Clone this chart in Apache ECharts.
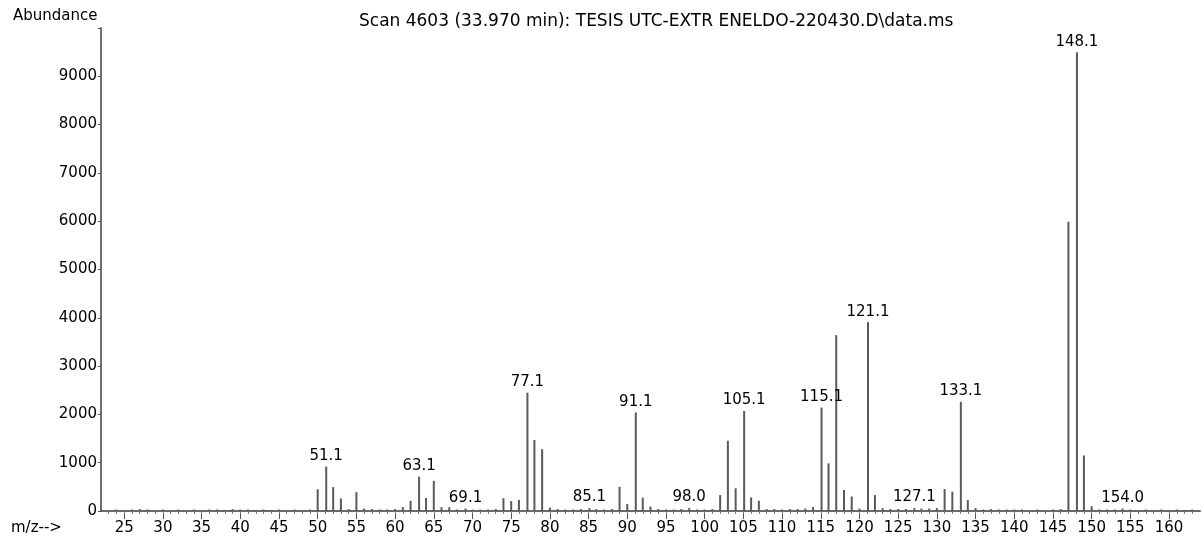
<!DOCTYPE html>
<html>
<head>
<meta charset="utf-8">
<script src="https://cdn.jsdelivr.net/npm/echarts@6/dist/echarts.min.js"></script>
<style>
html, body { margin: 0; padding: 0; background: #fff; }
#chart { width: 1204px; height: 545px; }
</style>
</head>
<body>
<div id="chart"></div>
<script>
// m/z values of the spectrum (labelled peaks carry their centroid mass)
const masses = [
  22, 23, 24, 25, 26, 27, 28, 29, 30, 31, 32, 33, 34, 35, 36, 37, 38, 39, 40, 41,
  42, 43, 44, 45, 46, 47, 48, 49, 50, 51.1, 52, 53, 54, 55, 56, 57, 58, 59, 60, 61,
  62, 63.1, 64, 65, 66, 67, 68, 69.1, 70, 71, 72, 73, 74, 75, 76, 77.1, 78, 79, 80, 81,
  82, 83, 84, 85.1, 86, 87, 88, 89, 90, 91.1, 92, 93, 94, 95, 96, 97, 98.0, 99, 100, 101,
  102, 103, 104, 105.1, 106, 107, 108, 109, 110, 111, 112, 113, 114, 115.1, 116, 117, 118, 119, 120, 121.1,
  122, 123, 124, 125, 126, 127.1, 128, 129, 130, 131, 132, 133.1, 134, 135, 136, 137, 138, 139, 140, 141,
  142, 143, 144, 145, 146, 147, 148.1, 149, 150, 151, 152, 153, 154.0, 155, 156, 157, 158, 159, 160, 161,
  162, 163
];

// Abundance at each m/z above
const abundances = [
  30, 20, 30, 20, 30, 40, 30, 20, 30, 20, 30, 20, 30, 20, 30, 30, 20, 40, 30, 30,
  20, 30, 20, 30, 20, 30, 20, 30, 450, 920, 495, 260, 40, 390, 50, 40, 30, 30, 40, 80,
  210, 710, 270, 625, 80, 80, 30, 50, 30, 30, 30, 40, 265, 205, 230, 2450, 1470, 1280, 70, 40,
  30, 30, 40, 60, 40, 30, 40, 500, 145, 2040, 275, 90, 40, 30, 30, 40, 60, 30, 30, 40,
  330, 1455, 470, 2070, 280, 212, 40, 40, 30, 40, 40, 50, 80, 2140, 985, 3640, 435, 300, 50, 3910,
  330, 60, 40, 40, 40, 60, 50, 50, 60, 455, 400, 2260, 228, 60, 30, 40, 30, 30, 30, 30,
  20, 30, 20, 30, 40, 5990, 9500, 1150, 100, 30, 30, 30, 50, 30, 20, 30, 20, 30, 20, 30,
  20, 30
];

// Peaks annotated with their m/z
const labelledMasses = [51.1, 63.1, 69.1, 77.1, 85.1, 91.1, 98.0, 105.1, 115.1, 121.1, 127.1, 133.1, 148.1, 154.0];

// Axis tick values
const xTickValues = [25, 30, 35, 40, 45, 50, 55, 60, 65, 70, 75, 80, 85, 90, 95, 100, 105, 110,
  115, 120, 125, 130, 135, 140, 145, 150, 155, 160];
const xMinorTickValues = [];
for (let m = 23; m <= 163; m++) xMinorTickValues.push(m);
const yTickValues = [0, 1000, 2000, 3000, 4000, 5000, 6000, 7000, 8000, 9000];

const titleText = 'Scan 4603 (33.970 min): TESIS UTC-EXTR ENELDO-220430.D\\data.ms';

const FONT = 'DejaVu Sans';

const seriesData = masses.map((m, i) => {
  const item = { value: [m, abundances[i]] };
  if (labelledMasses.includes(m)) {
    item.label = {
      show: true,
      position: 'top',
      distance: 3,
      formatter: m.toFixed(1),
      color: '#000',
      fontFamily: FONT,
      fontSize: 15
    };
  }
  return item;
});

const chart = echarts.init(document.getElementById('chart'), null, { renderer: 'canvas' });

chart.setOption({
  animation: false,
  backgroundColor: '#ffffff',
  title: {
    text: titleText,
    left: 354,
    top: 8,
    textStyle: { fontFamily: FONT, fontSize: 17, fontWeight: 'normal', color: '#000' }
  },
  graphic: [
    {
      type: 'text', left: 13, top: 9,
      style: { text: 'Abundance', fontFamily: FONT, fontSize: 15, fill: '#000' }
    },
    {
      type: 'text', left: 11, top: 521,
      style: { text: 'm/z-->', fontFamily: FONT, fontSize: 15, fill: '#000' }
    }
  ],
  grid: { left: 101, right: 4, top: 28, bottom: 34, containLabel: false },
  xAxis: [
    {
      type: 'value',
      min: 22,
      max: 164,
      splitLine: { show: false },
      axisLine: { show: true, onZero: false, lineStyle: { color: '#6a6a6a', width: 2 } },
      axisTick: {
        show: true, customValues: xTickValues, length: 8,
        lineStyle: { color: '#555', width: 1 }
      },
      axisLabel: {
        customValues: xTickValues, margin: 10,
        fontFamily: FONT, fontSize: 15, color: '#000'
      }
    },
    {
      type: 'value',
      min: 22,
      max: 164,
      position: 'bottom',
      splitLine: { show: false },
      axisLine: { show: false },
      axisTick: {
        show: true, customValues: xMinorTickValues, length: 3,
        lineStyle: { color: '#777', width: 1 }
      },
      axisLabel: { show: false }
    }
  ],
  yAxis: {
    type: 'value',
    min: 0,
    max: 10000,
    interval: 1000,
    splitLine: { show: false },
    axisLine: { show: true, lineStyle: { color: '#707070', width: 2 } },
    axisTick: { show: true, length: 3, lineStyle: { color: '#555' } },
    axisLabel: {
      customValues: yTickValues,
      formatter: (v) => String(v),
      margin: 4,
      fontFamily: FONT, fontSize: 15, color: '#000'
    }
  },
  series: [
    {
      type: 'bar',
      xAxisIndex: 0,
      barWidth: 2,
      itemStyle: { color: '#5a5a5a' },
      data: seriesData
    }
  ]
});
</script>
</body>
</html>
